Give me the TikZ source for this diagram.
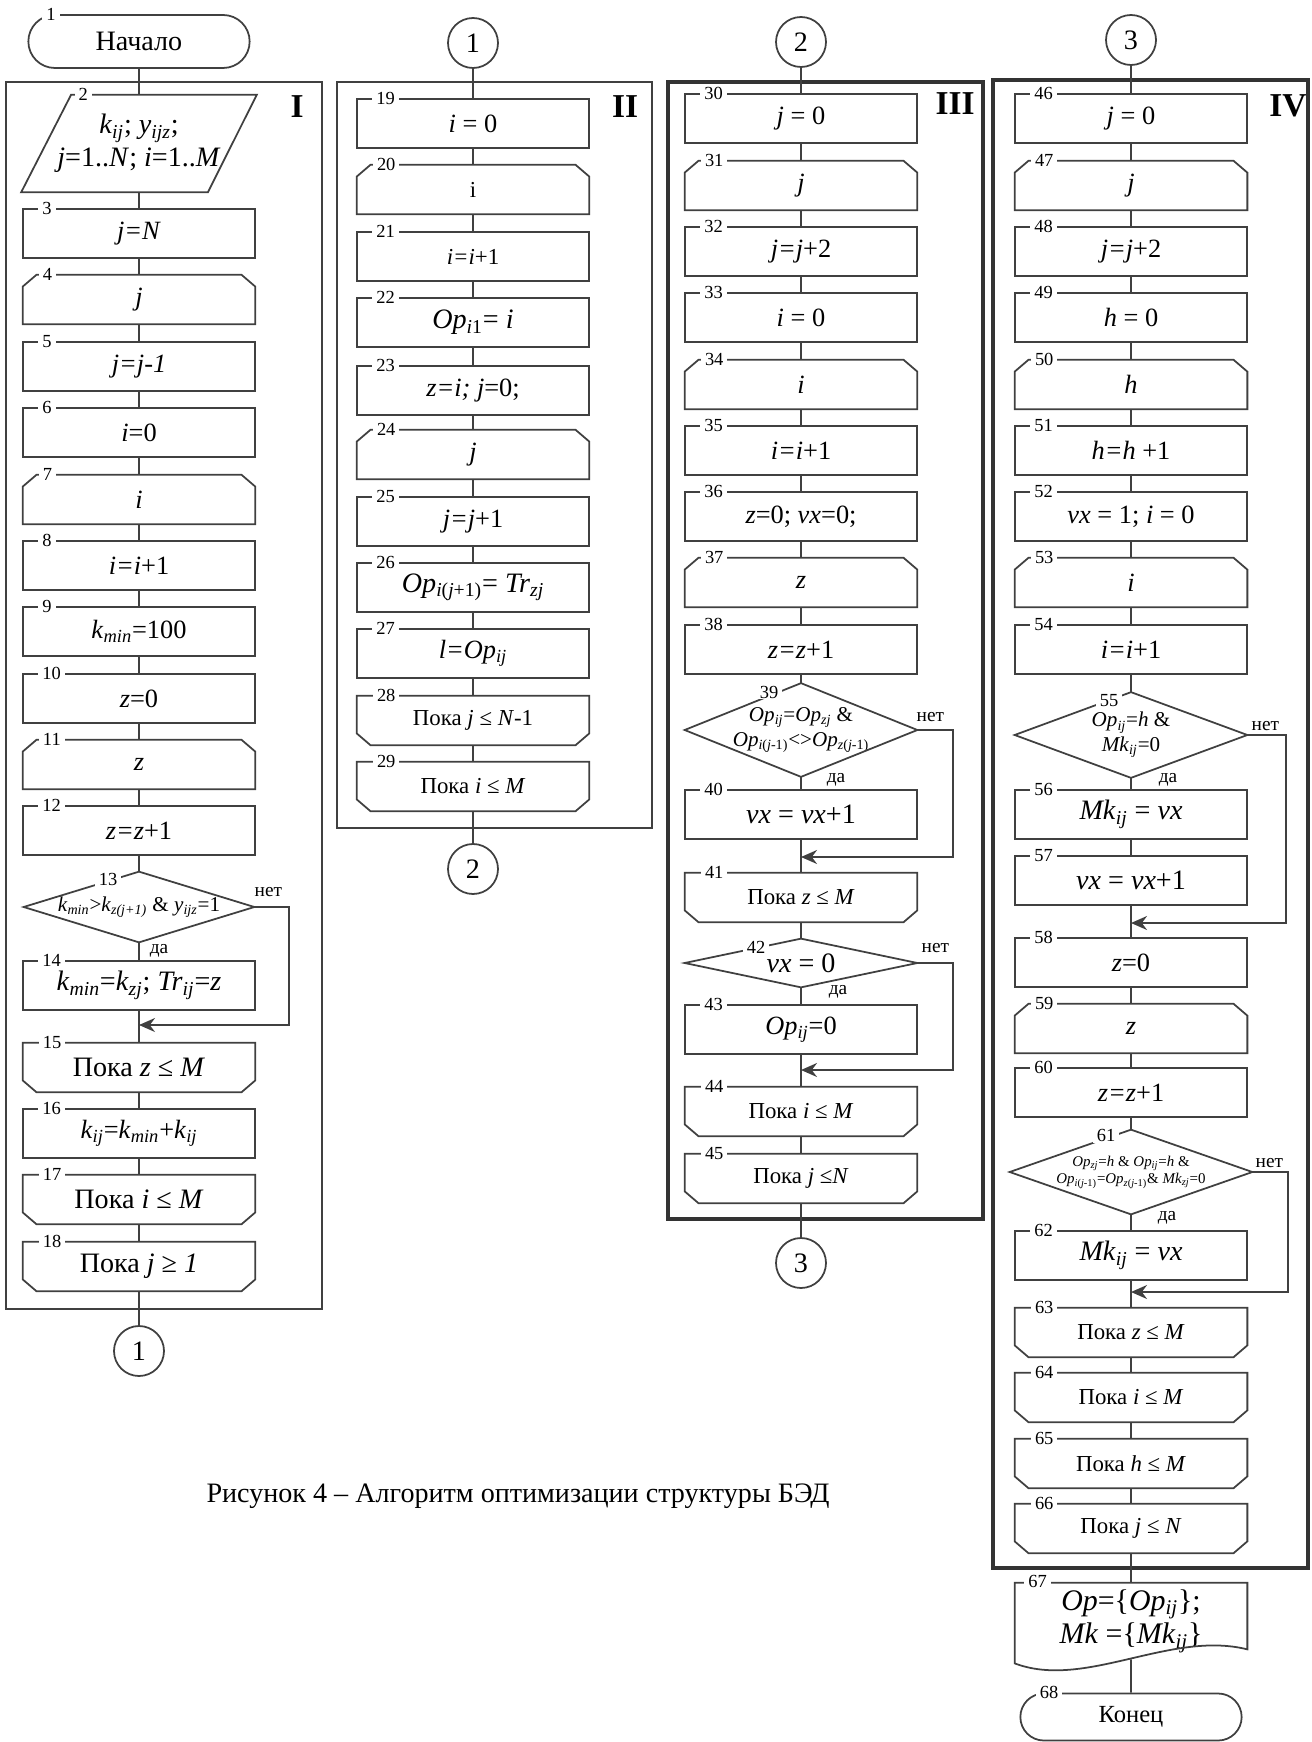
\documentclass[tikz,border=0pt]{standalone}
\usepackage{fontspec}
\setmainfont{Liberation Serif}
\usetikzlibrary{arrows.meta,shapes.misc}
\definecolor{linegray}{HTML}{404040}
\newcommand\vr[1]{\textit{#1}}
\newcommand\sbs[1]{\textsubscript{\textit{#1}}}
\newcommand\fsz[2]{\fontsize{#1}{#2}\selectfont}

\begin{document}
\begin{tikzpicture}[
  x=0.2mm, y=-0.2mm,
  conn/.style={draw=linegray, line width=1pt},
  nobr/.style={conn, -{Stealth[length=3.2mm, width=2.8mm]}},
  outl/.style={draw=linegray, line width=1pt},
  loopbox/.style={rectangle, minimum width=46.4mm, minimum height=9.8mm, inner sep=1pt, align=center, font=\fsz{15}{17}},
  procbox/.style={loopbox, draw=linegray, line width=1pt},
  term/.style={rounded rectangle, draw=linegray, line width=1pt, minimum width=46.6mm, minimum height=10.6mm, font=\fsz{16}{18}},
  link/.style={circle, draw=linegray, line width=1pt, minimum size=10mm, inner sep=0pt, font=\fsz{16}{18}},
  numlbl/.style={fill=white, inner xsep=0.8mm, inner ysep=0.2mm, font=\fsz{10.5}{11}},
  yesno/.style={inner sep=0pt, font=\fsz{11}{12}},
  roman/.style={font=\fsz{19}{20}\bfseries},
  frame/.style={draw=linegray, line width=1pt},
  bigframe/.style={draw=linegray!80!black, line width=2.2pt}
]
\useasboundingbox (0,0) rectangle (1311,1742);

% frames of the four parts
\draw[frame] (6,82) rectangle (322,1309);
\draw[frame] (337,82) rectangle (652,828);
\draw[bigframe] (668,82) rectangle (983,1219);
\draw[bigframe] (993,80) rectangle (1308,1568);
\node[roman] (rI) at (297,107) {I};
\node[roman] (rII) at (625,107) {II};
\node[roman] (rIII) at (955,104) {III};
\node[roman] (rIV) at (1288,106) {IV};

% part I
\node[term] (b1) at (139,41.5) {Начало};
\node[loopbox, minimum width=47mm, minimum height=19.4mm, font=\fsz{16}{19}] (b2) at (139,143.5)
  {\vr{k}\sbs{ij}; \vr{y}\sbs{ijz};\\\vr{j}=1..\vr{N}; \vr{i}=1..\vr{M}};
\node[procbox] (b3) at (139,233.5) {\vr{j=N}};
\node[loopbox] (b4) at (139,299.5) {\vr{j}};
\node[procbox] (b5) at (139,366.5) {\vr{j=j-1}};
\node[procbox] (b6) at (139,432.5) {\vr{i}=0};
\node[loopbox] (b7) at (139,499.5) {\vr{i}};
\node[procbox] (b8) at (139,565.5) {\vr{i=i}+1};
\node[procbox] (b9) at (139,631.5) {\vr{k}\sbs{min}=100};
\node[procbox] (b10) at (139,698.5) {\vr{z}=0};
\node[loopbox] (b11) at (139,764.5) {\vr{z}};
\node[procbox] (b12) at (139,830.5) {\vr{z=z}+1};
\node[loopbox, minimum width=46mm, minimum height=14mm, font=\fsz{12}{14}] (b13) at (139,907)
  {\vr{k}\sbs{min}>\vr{k}\sbs{z(j+1)} \& \vr{y}\sbs{ijz}=1};
\node[procbox, font=\fsz{16}{18}] (b14) at (139,985.5) {\vr{k}\sbs{min}=\vr{k}\sbs{zj}; \vr{Tr}\sbs{ij}=\vr{z}};
\node[loopbox, font=\fsz{16}{18}] (b15) at (139,1067.5) {Пока \vr{z} ≤ \vr{M}};
\node[procbox] (b16) at (139,1133.5) {\vr{k}\sbs{ij}=\vr{k}\sbs{min}+\vr{k}\sbs{ij}};
\node[loopbox, font=\fsz{16}{18}] (b17) at (139,1199.5) {Пока \vr{i} ≤ \vr{M}};
\node[loopbox, font=\fsz{16}{18}] (b18) at (139,1266.5) {Пока \vr{j} ≥ \vr{1}};
\node[link] (c1a) at (139,1351) {1};

% part II
\node[link] (c1b) at (473,43) {1};
\node[procbox] (b19) at (473,123.5) {\vr{i} = 0};
\node[loopbox, font=\fsz{13}{15}] (b20) at (473,189.5) {i};
\node[procbox, font=\fsz{13}{15}] (b21) at (473,256.5) {\vr{i=i}+1};
\node[procbox, font=\fsz{16}{18}] (b22) at (473,322.5) {\vr{Op}\textsubscript{\textit{i}1}= \vr{i}};
\node[procbox] (b23) at (473,390.5) {\vr{z=i; j}=0;};
\node[loopbox] (b24) at (473,454.5) {\vr{j}};
\node[procbox] (b25) at (473,521.5) {\vr{j=j}+1};
\node[procbox, font=\fsz{16}{18}] (b26) at (473,587.5) {\vr{Op}\textsubscript{\textit{i}(\textit{j}+1)}= \vr{Tr}\sbs{zj}};
\node[procbox] (b27) at (473,653.5) {\vr{l=Op}\sbs{ij}};
\node[loopbox, font=\fsz{13}{15}] (b28) at (473,720.5) {Пока \vr{j} ≤ \vr{N}-1};
\node[loopbox, font=\fsz{13}{15}] (b29) at (473,786.5) {Пока \vr{i} ≤ \vr{M}};
\node[link] (c2a) at (473,869) {2};

% part III
\node[link] (c2b) at (801,42) {2};
\node[procbox] (b30) at (801,118.5) {\vr{j} = 0};
\node[loopbox] (b31) at (801,185.5) {\vr{j}};
\node[procbox] (b32) at (801,251.5) {\vr{j=j}+2};
\node[procbox] (b33) at (801,317.5) {\vr{i} = 0};
\node[loopbox] (b34) at (801,384.5) {\vr{i}};
\node[procbox] (b35) at (801,450.5) {\vr{i=i}+1};
\node[procbox] (b36) at (801,516.5) {\vr{z}=0; \vr{vx}=0;};
\node[loopbox] (b37) at (801,582.5) {\vr{z}};
\node[procbox] (b38) at (801,649.5) {\vr{z=z}+1};
\node[loopbox, minimum height=18.6mm, font=\fsz{12}{14}] (b39) at (801,730)
  {\vr{Op}\sbs{ij}=\vr{Op}\sbs{zj} \&\\\vr{Op}\textsubscript{\textit{i}(\textit{j}-1)}<>\vr{Op}\textsubscript{\textit{z}(\textit{j}-1)}};
\node[procbox, font=\fsz{16}{18}] (b40) at (801,814.5) {\vr{vx} = \vr{vx}+1};
\node[loopbox, font=\fsz{13}{15}] (b41) at (801,897.5) {Пока \vr{z} ≤ \vr{M}};
\node[loopbox, minimum height=9.6mm, font=\fsz{16}{18}] (b42) at (801,963) {\vr{vx} = 0};
\node[procbox] (b43) at (801,1029.5) {\vr{Op}\sbs{ij}=0};
\node[loopbox, font=\fsz{13}{15}] (b44) at (801,1111.5) {Пока \vr{i} ≤ \vr{M}};
\node[loopbox, font=\fsz{13}{15}] (b45) at (801,1178.5) {Пока \vr{j} ≤\vr{N}};
\node[link] (c3a) at (801,1263) {3};

% part IV
\node[link] (c3b) at (1131,40) {3};
\node[procbox] (b46) at (1131,118.5) {\vr{j} = 0};
\node[loopbox] (b47) at (1131,185.5) {\vr{j}};
\node[procbox] (b48) at (1131,251.5) {\vr{j=j}+2};
\node[procbox] (b49) at (1131,317.5) {\vr{h} = 0};
\node[loopbox] (b50) at (1131,384.5) {\vr{h}};
\node[procbox] (b51) at (1131,450.5) {\vr{h=h} +1};
\node[procbox] (b52) at (1131,516.5) {\vr{vx} = 1; \vr{i} = 0};
\node[loopbox] (b53) at (1131,582.5) {\vr{i}};
\node[procbox] (b54) at (1131,649.5) {\vr{i=i}+1};
\node[loopbox, minimum height=17mm, font=\fsz{12}{14}] (b55) at (1131,735)
  {\vr{Op}\sbs{ij}=\vr{h} \&\\\vr{Mk}\sbs{ij}=0};
\node[procbox, font=\fsz{16}{18}] (b56) at (1131,814.5) {\vr{Mk}\sbs{ij} = \vr{vx}};
\node[procbox, font=\fsz{16}{18}] (b57) at (1131,880.5) {\vr{vx} = \vr{vx}+1};
\node[procbox] (b58) at (1131,962.5) {\vr{z}=0};
\node[loopbox] (b59) at (1131,1028.5) {\vr{z}};
\node[procbox] (b60) at (1131,1092.5) {\vr{z=z}+1};
\node[loopbox, minimum width=48.4mm, minimum height=16.8mm, font=\fsz{8.5}{10}] (b61) at (1131,1172)
  {\vr{Op}\sbs{zj}=\vr{h} \& \vr{Op}\sbs{ij}=\vr{h} \&\\\vr{Op}\textsubscript{\textit{i}(\textit{j}-1)}=\vr{Op}\textsubscript{\textit{z}(\textit{j}-1)}\& \vr{Mk}\sbs{zj}=0};
\node[procbox, font=\fsz{16}{18}] (b62) at (1131,1255.5) {\vr{Mk}\sbs{ij} = \vr{vx}};
\node[loopbox, font=\fsz{13}{15}] (b63) at (1131,1332.5) {Пока \vr{z} ≤ \vr{M}};
\node[loopbox, font=\fsz{13}{15}] (b64) at (1131,1397.5) {Пока \vr{i} ≤ \vr{M}};
\node[loopbox, font=\fsz{13}{15}] (b65) at (1131,1463.5) {Пока \vr{h} ≤ \vr{M}};
\node[loopbox, font=\fsz{13}{15}] (b66) at (1131,1528.5) {Пока \vr{j} ≤ \vr{N}};
\node[loopbox, minimum height=15.2mm, font=\fsz{17}{19}] (b67) at (1131,1621)
  {\vr{Op}=\{\vr{Op}\sbs{ij}\};\\\vr{Mk} =\{\vr{Mk}\sbs{ij}\}};
\node[term, font=\fsz{14}{16}, minimum height=9.4mm] (b68) at (1131,1717) {Конец};

\node[font=\fsz{16}{18}] (cap) at (518,1496) {Рисунок 4 – Алгоритм оптимизации структуры БЭД};

% outlines of loop, decision and data blocks
\foreach \n in {4,7,11,20,24,31,34,37,47,50,53,59}
  \draw[outl] ([xshift=2.8mm]b\n.north west) -- ([xshift=-2.8mm]b\n.north east) -- ([yshift=-2.4mm]b\n.north east)
    -- (b\n.south east) -- (b\n.south west) -- ([yshift=-2.4mm]b\n.north west) -- cycle;
\foreach \n in {15,17,18,28,29,41,44,45,63,64,65,66}
  \draw[outl] (b\n.north west) -- (b\n.north east) -- ([yshift=2.4mm]b\n.south east) -- ([xshift=-2.8mm]b\n.south east)
    -- ([xshift=2.8mm]b\n.south west) -- ([yshift=2.4mm]b\n.south west) -- cycle;
\foreach \n in {13,39,42,55,61}
  \draw[outl] (b\n.north) -- (b\n.east) -- (b\n.south) -- (b\n.west) -- cycle;
\draw[outl] ([xshift=10mm]b2.north west) -- (b2.north east) -- ([xshift=-9.8mm]b2.south east) -- (b2.south west) -- cycle;
\draw[outl] (b67.north west) -- (b67.north east) -- ([yshift=2mm]b67.south east)
  .. controls (1170,1630) and (1085,1690) .. ([yshift=-0.8mm]b67.south west) -- cycle;

% connectors
\foreach \a [evaluate=\a as \b using int(\a+1)] in {1,...,17}
  \draw[conn] (b\a) -- (b\b);
\foreach \a [evaluate=\a as \b using int(\a+1)] in {19,...,28}
  \draw[conn] (b\a) -- (b\b);
\foreach \a [evaluate=\a as \b using int(\a+1)] in {30,...,44}
  \draw[conn] (b\a) -- (b\b);
\foreach \a [evaluate=\a as \b using int(\a+1)] in {46,...,67}
  \draw[conn] (b\a) -- (b\b);
\draw[conn] (b18) -- (c1a);
\draw[conn] (c1b) -- (b19);
\draw[conn] (b29) -- (c2a);
\draw[conn] (c2b) -- (b30);
\draw[conn] (b45) -- (c3a);
\draw[conn] (c3b) -- (b46);

% "no" branches
\coordinate (m13) at (139,1025);
\coordinate (m39) at (801,857);
\coordinate (m42) at (801,1070);
\coordinate (m55) at (1131,923);
\coordinate (m61) at (1131,1292);
\draw[nobr] (b13.east) -- ++(35,0) |- (m13);
\draw[nobr] (b39.east) -- ++(36,0) |- (m39);
\draw[nobr] (b42.east) -- ++(36,0) |- (m42);
\draw[nobr] (b55.east) -- ++(39,0) |- (m55);
\draw[nobr] (b61.east) -- ++(36,0) |- (m61);
\node[yesno] (n13) at ([xshift=2.8mm,yshift=3mm]b13.east) {нет};
\node[yesno] (y13) at ([xshift=4mm,yshift=-1.6mm]b13.south) {да};
\node[yesno] (n39) at ([xshift=2.6mm,yshift=2.6mm]b39.east) {нет};
\node[yesno] (y39) at ([xshift=7mm,yshift=-0.6mm]b39.south) {да};
\node[yesno] (n42) at ([xshift=3.6mm,yshift=3mm]b42.east) {нет};
\node[yesno] (y42) at ([xshift=7.4mm,yshift=-0.8mm]b42.south) {да};
\node[yesno] (n55) at ([xshift=3.6mm,yshift=1.8mm]b55.east) {нет};
\node[yesno] (y55) at ([xshift=7.4mm,yshift=-0.4mm]b55.south) {да};
\node[yesno] (n61) at ([xshift=3.4mm,yshift=1.8mm]b61.east) {нет};
\node[yesno] (y61) at ([xshift=7.2mm,yshift=-0.6mm]b61.south) {да};

% block numbers
\foreach \n in {3,4,5,6,7,8,9,10,11,12,14,15,16,17,18,19,20,21,22,23,24,25,26,27,28,29,
  30,31,32,33,34,35,36,37,38,40,41,43,44,45,46,47,48,49,50,51,52,53,54,56,57,58,59,60,62,63,64,65,66}
  \node[numlbl, anchor=west] at ([xshift=3.2mm]b\n.north west) {\n};
\node[numlbl] at ([xshift=-17.6mm]b1.north) {1};
\node[numlbl] at ([xshift=12.4mm]b2.north west) {2};
\node[numlbl] at ([xshift=-6.2mm,yshift=-1.6mm]b13.north) {13};
\node[numlbl] at ([xshift=-6.4mm,yshift=-1.8mm]b39.north) {39};
\node[numlbl] at ([xshift=-9mm,yshift=-1.7mm]b42.north) {42};
\node[numlbl] at ([xshift=-4.4mm,yshift=-1.6mm]b55.north) {55};
\node[numlbl] at ([xshift=-5mm,yshift=-1.2mm]b61.north) {61};
\node[numlbl] at ([xshift=4.6mm,yshift=0.2mm]b67.north west) {67};
\node[numlbl] at ([xshift=-16.4mm]b68.north) {68};
\end{tikzpicture}
\end{document}
